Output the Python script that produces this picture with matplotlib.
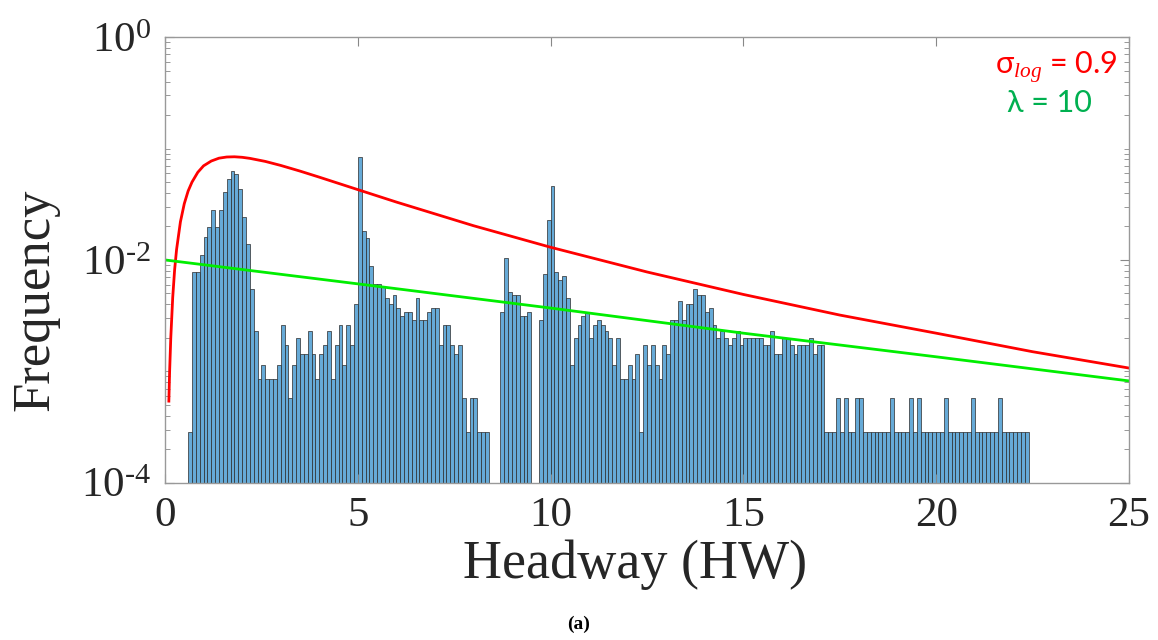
import numpy as np
import matplotlib.pyplot as plt
from matplotlib.ticker import FixedLocator, LogLocator, NullFormatter

plt.rcParams['mathtext.fontset'] = 'custom'
plt.rcParams['mathtext.it'] = 'Liberation Serif:italic'
plt.rcParams['mathtext.rm'] = 'Liberation Serif'

# histogram: counts per 0.1-wide bin, first bin starts at 0.6
bin_start = 0.6
bin_width = 0.1
counts = [
    # 0.6 - 4.9
    1, 27, 27, 39, 56, 69, 99, 69, 98, 143, 185, 220, 207, 151, 85, 49, 19, 8, 3, 4,
    3, 3, 3, 4, 9, 6, 2, 4, 7, 5, 5, 8, 5, 3, 5, 6, 8, 3, 6, 9, 4, 9, 6, 14,
    # 5.0 - 8.3
    291, 63, 55, 31, 21, 21, 20, 16, 14, 17, 13, 11, 12, 12, 10, 16, 10, 10, 12, 13,
    13, 6, 9, 9, 6, 5, 6, 2, 1, 2, 2, 1, 1, 1,
    # 8.4 - 8.6
    0, 0, 0,
    # 8.7 - 9.4
    12, 36, 18, 17, 17, 11, 11, 12,
    # 9.5 - 9.6
    0, 0,
    # 9.7 - 10.4
    10, 26, 79, 160, 27, 23, 25, 16,
    # 10.5 - 13.0
    4, 7, 9, 11, 12, 7, 9, 10, 9, 8, 7, 4, 7, 3, 3, 4, 3, 5, 1, 6, 4, 6, 4, 3, 6, 5,
    # 13.1 - 14.5
    10, 10, 15, 10, 14, 14, 19, 17, 17, 12, 13, 9, 7, 8, 7,
    # 14.6 - 17.0
    6, 7, 8, 6, 7, 7, 7, 7, 7, 6, 6, 8, 5, 5, 7, 7, 6, 5, 6, 6, 6, 7, 5, 6, 6,
    # 17.1 - 22.3
    1, 1, 1, 2, 1, 2, 1, 1, 2, 2, 1, 1, 1, 1, 1, 1, 1, 2, 1, 1, 1, 1, 2, 1, 2,
    1, 1, 1, 1, 1, 1, 2, 1, 1, 1, 1, 1, 1, 2, 1, 1, 1, 1, 1, 1, 2, 1, 1, 1, 1,
    1, 1, 1,
]

# lognormal fit (sigma_log = 0.9)
red_x = [0.1, 0.12, 0.15, 0.2, 0.25, 0.3, 0.4, 0.5, 0.6, 0.7, 0.85, 1.0, 1.2, 1.4, 1.6,
         1.8, 2.0, 2.2, 2.6, 3.0, 3.5, 4, 5, 6, 8, 10, 12.5, 15, 17.5, 20, 22.5, 25]
red_y = [5.4e-4, 1.0e-3, 2.0e-3, 4.6e-3, 8.2e-3, 0.0124, 0.022, 0.032, 0.0416, 0.050,
         0.0612, 0.070, 0.0773, 0.082, 0.084, 0.0844, 0.0835, 0.0817, 0.0767, 0.0706,
         0.0628, 0.0554, 0.0428, 0.0331, 0.0203, 0.0130, 0.0078, 0.0049, 0.0032,
         0.0022, 0.0015, 0.00107]

# exponential fit (lambda = 10)
green_x = [0, 5, 10, 15, 20, 25]
green_y = [0.0100, 0.0061, 0.0037, 0.0022, 0.00135, 0.00082]

ytick_vals = [1e-4, 1e-2, 1]
ytick_text = [r'$\mathregular{10^{‐4}}$', r'$\mathregular{10^{‐2}}$', r'$\mathregular{10^{0}}$']
xtick_vals = [0, 5, 10, 15, 20, 25]

counts = np.array(counts, dtype=float)
freq = counts / counts.sum()
lefts = bin_start + bin_width * np.arange(len(counts))
keep = counts > 0

fig = plt.figure(figsize=(11.58, 6.40), dpi=100)
ax = fig.add_axes([165 / 1158, 1 - 482.7 / 640, 964 / 1158, 445.5 / 640])

ax.bar(lefts[keep], freq[keep], width=bin_width, align='edge', bottom=1e-6,
       color='#66AAD7', edgecolor='#2a2a2a', linewidth=0.5)
ax.plot(red_x, red_y, color='#FF0000', lw=2.0)
ax.plot(green_x, green_y, color='#00EE00', lw=2.0)

ax.set_yscale('log')
ax.set_xlim(0, 25)
ax.set_ylim(1e-4, 1)

serif = 'Liberation Serif'
ax.xaxis.set_major_locator(FixedLocator(xtick_vals))
ax.yaxis.set_major_locator(FixedLocator(ytick_vals))
ax.yaxis.set_minor_locator(LogLocator(base=10, subs=np.arange(1, 10), numticks=20))
ax.yaxis.set_minor_formatter(NullFormatter())
ax.set_yticklabels(ytick_text)
ax.set_xticklabels([str(v) for v in xtick_vals])
for lab in ax.get_xticklabels() + ax.get_yticklabels():
    lab.set_fontfamily(serif)
    lab.set_fontsize(31)
    lab.set_color('#262626')

ax.tick_params(which='both', direction='in', top=True, right=True, colors='#888888',
               labelcolor='#262626')
ax.tick_params(which='major', length=6.5, width=0.8, pad=10)
ax.tick_params(which='minor', length=3.5, width=0.6)
for s in ax.spines.values():
    s.set_color('#999999')
    s.set_linewidth(1.0)

ax.set_xlabel('Headway (HW)', fontfamily=serif, fontsize=39, color='#262626')
ax.set_ylabel('Frequency', fontfamily=serif, fontsize=38, color='#262626')
ax.xaxis.set_label_coords(0.4876, -0.128)
ax.yaxis.set_label_coords(-0.110, 0.41)

ax.text(0.988, 0.932, r'σ$_{log}$ = 0.9', transform=ax.transAxes, ha='right',
        va='center', color='#FF0000', fontsize=22, family=['Lato', 'DejaVu Sans'])
ax.text(0.917, 0.852, 'λ = 10', transform=ax.transAxes, ha='center', va='center',
        color='#00B050', fontsize=22, family=['Lato', 'DejaVu Sans'])

fig.text(0.5, 0.024, '(a)', ha='center', va='center', fontsize=14, fontweight='bold',
         fontfamily=serif)

fig.savefig('out.png', dpi=100)
